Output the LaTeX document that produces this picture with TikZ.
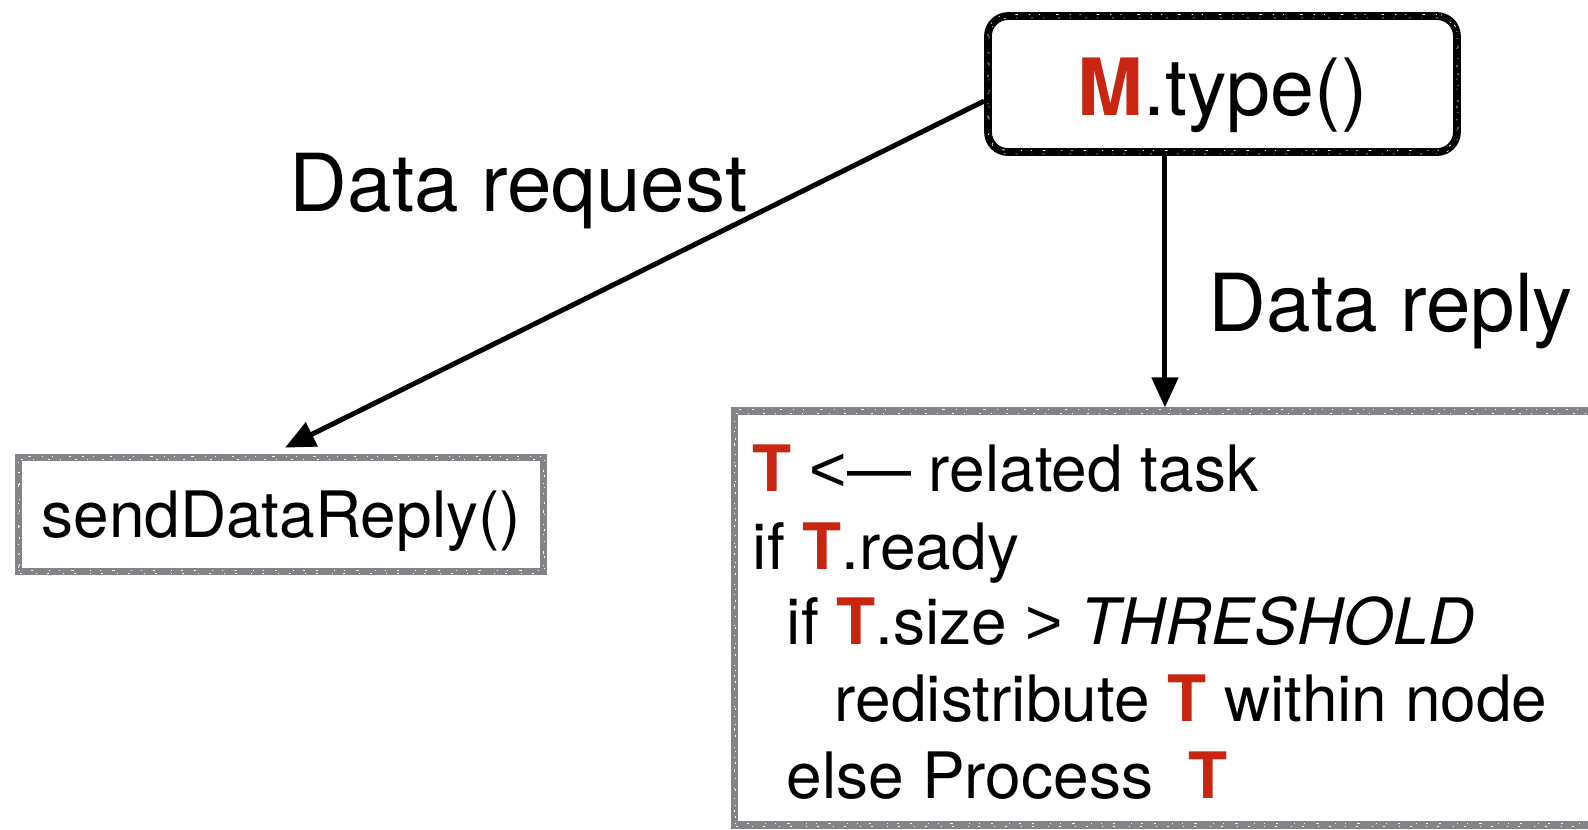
\documentclass[tikz,border=0pt]{standalone}
\usepackage{fontspec}
\setmainfont{TeX Gyre Heros}
\newfontfamily\relfont{Liberation Sans}
\usetikzlibrary{arrows.meta}
\definecolor{keyred}{RGB}{200,38,16}
\definecolor{boxgray}{RGB}{130,132,136}
\newcommand\kw[1]{\textcolor{keyred}{\textbf{#1}}}
% one drawing unit = 0.1pt
\tikzset{
  chalk/.style={draw=#1, line width=0.78pt, inner sep=0pt,
    postaction={draw=white, line width=0.08pt,
      dash pattern=on 0.12pt off 1.1pt on 0.25pt off 1.6pt on 0.1pt off 0.9pt,
      transform canvas={shift={(0,0.16pt)}}},
    postaction={draw=white, line width=0.06pt,
      dash pattern=on 0.2pt off 1.4pt on 0.1pt off 1.0pt,
      transform canvas={shift={(0.1pt,-0.18pt)}}}},
  bigtext/.style={font=\fontsize{8}{9.6}\selectfont, inner sep=0pt, anchor=base west},
  codeline/.style={font=\fontsize{6.4}{7.7}\selectfont, inner sep=0pt, anchor=base west},
  flow/.style={line width=0.5pt, -{Triangle[length=3pt,width=2.6pt]}},
}
\begin{document}
\begin{tikzpicture}[x=0.1pt,y=-0.1pt]
  \useasboundingbox (0,0) rectangle (1588,829);
  \clip (0,0) rectangle (1588,829);

  % message handler box
  \node[chalk=black, rounded corners=2pt, minimum width=46.9pt, minimum height=13.6pt,
        font=\fontsize{7.9}{9.5}\selectfont, text height=6.2pt, text depth=0pt]
    (mtype) at (1222.5,84) {\kw{M}.type()};

  % reply sender
  \node[chalk=boxgray, minimum width=52.5pt, minimum height=11.4pt,
        font=\fontsize{6.4}{7.7}\selectfont, text height=4.5pt, text depth=0pt]
    (send) at (281,514.5) {sendDataReply()};

  % task handling box (runs past the right border)
  \node[chalk=boxgray, minimum width=86.1pt, minimum height=41.35pt]
    (task) at (1165,618) {};

  \node[codeline] (l1) at (751,491) {\kw{T} {\relfont<}— related task};
  \node[codeline] (l2) at (751,569) {if \kw{T}.ready};
  \node[codeline] (l3) at (785,644) {if \kw{T}.size {\relfont>} \textit{THRESHOLD}};
  \node[codeline] (l4) at (833,721) {redistribute \kw{T} within node};
  \node[codeline] (l5) at (785,798) {else Process\ \ \kw{T}};

  % connectors
  \draw[flow] ([yshift=-1.7pt]mtype.west) -- ([xshift=0.4pt,yshift=0.6pt]send.north);
  \draw[flow] (mtype.south -| task.north) -- (task.north);

  \node[bigtext] (req) at (288,211) {Data request};
  \node[bigtext] (rep) at (1207,331) {Data reply};
\end{tikzpicture}
\end{document}
